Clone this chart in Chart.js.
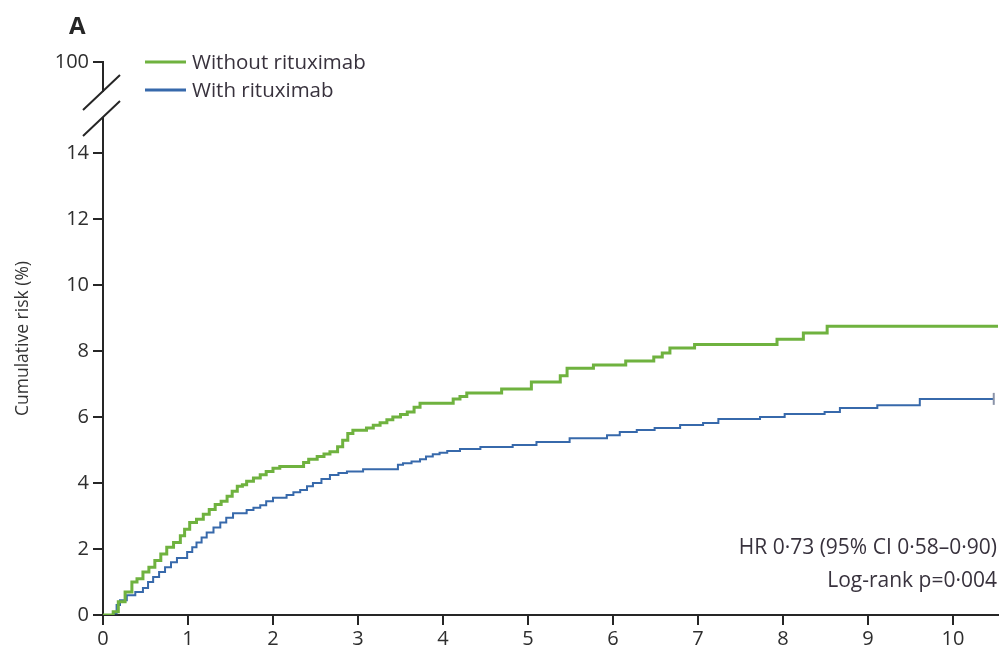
<!DOCTYPE html>
<html>
<head>
<meta charset="utf-8">
<title>Cumulative risk</title>
<script src="https://cdn.jsdelivr.net/npm/chart.js@4.4.1/dist/chart.umd.min.js"></script>
<style>
html, body { margin: 0; padding: 0; background: #fff; }
canvas { display: block; }
</style>
</head>
<body>
<canvas id="kmChart" width="1001" height="647"></canvas>
<script>
/* ==========================================
DATA (years, cumulative risk %)
========================================== */

const withoutTimes = [0, 0.12, 0.18, 0.26, 0.34, 0.40, 0.47, 0.54, 0.61, 0.68, 0.75, 0.83, 0.91, 0.96, 1.02, 1.10, 1.18, 1.25, 1.32, 1.39, 1.46, 1.52, 1.58, 1.64, 1.69, 1.77, 1.85, 1.92, 2.00, 2.08, 2.36, 2.42, 2.52, 2.60, 2.67, 2.76, 2.82, 2.88, 2.94, 3.10, 3.18, 3.26, 3.34, 3.41, 3.50, 3.58, 3.66, 3.73, 4.12, 4.20, 4.28, 4.69, 5.04, 5.38, 5.46, 5.77, 6.15, 6.48, 6.58, 6.67, 6.96, 7.93, 8.24, 8.52, 10.53];
const withoutRisk = [0, 0.10, 0.40, 0.70, 1.00, 1.10, 1.30, 1.45, 1.65, 1.85, 2.05, 2.20, 2.40, 2.60, 2.80, 2.90, 3.05, 3.20, 3.35, 3.45, 3.60, 3.75, 3.90, 3.95, 4.05, 4.15, 4.25, 4.35, 4.45, 4.50, 4.62, 4.72, 4.80, 4.88, 4.95, 5.10, 5.30, 5.50, 5.60, 5.67, 5.75, 5.83, 5.92, 6.00, 6.08, 6.15, 6.30, 6.42, 6.55, 6.62, 6.73, 6.85, 7.06, 7.25, 7.48, 7.58, 7.70, 7.82, 7.94, 8.09, 8.20, 8.36, 8.55, 8.75, 8.75];

const withTimes = [0, 0.12, 0.16, 0.20, 0.28, 0.38, 0.47, 0.53, 0.59, 0.66, 0.73, 0.80, 0.87, 0.99, 1.05, 1.10, 1.16, 1.22, 1.30, 1.38, 1.45, 1.53, 1.69, 1.77, 1.85, 1.92, 2.00, 2.16, 2.24, 2.32, 2.40, 2.47, 2.57, 2.67, 2.77, 2.87, 3.06, 3.47, 3.53, 3.63, 3.73, 3.80, 3.88, 3.96, 4.05, 4.20, 4.44, 4.82, 5.10, 5.49, 5.93, 6.08, 6.28, 6.49, 6.79, 7.06, 7.24, 7.73, 8.02, 8.49, 8.67, 9.11, 9.61, 10.48];
const withRisk = [0, 0.05, 0.30, 0.45, 0.60, 0.70, 0.82, 1.00, 1.15, 1.30, 1.45, 1.60, 1.73, 1.91, 2.05, 2.20, 2.35, 2.50, 2.65, 2.80, 2.95, 3.08, 3.18, 3.25, 3.33, 3.45, 3.55, 3.64, 3.72, 3.79, 3.90, 4.00, 4.12, 4.24, 4.30, 4.35, 4.42, 4.55, 4.60, 4.65, 4.72, 4.80, 4.87, 4.92, 4.97, 5.03, 5.09, 5.15, 5.24, 5.36, 5.45, 5.55, 5.61, 5.67, 5.76, 5.82, 5.94, 6.00, 6.09, 6.15, 6.27, 6.36, 6.55, 6.55];

const xTicks = [0, 1, 2, 3, 4, 5, 6, 7, 8, 9, 10];
const xMax = 10.53;

// last tick sits on the broken part of the axis and stands for 100
const yTickValues = [0, 2, 4, 6, 8, 10, 12, 14, 16.76];
const yTickLabels = ["0", "2", "4", "6", "8", "10", "12", "14", "100"];

const seriesNames = ["Without rituximab", "With rituximab"];
const seriesColors = ["#6fb23f", "#3769ab"];

const statLines = ["HR 0·73 (95% CI 0·58–0·90)", "Log-rank p=0·004"];


/* ==========================================
HELPERS
========================================== */

function toPoints(times, values){
return times.map((t, i) => ({ x: t, y: values[i] }));
}

const FONT = "'Open Sans', 'Noto Sans', sans-serif";
const INK = "#262626";
const TEXT = "#38323d";


/* ==========================================
DECORATIONS: panel letter, legend, stats, axis break
========================================== */

const decorations = {

id: "decorations",

afterDraw(chart){

const ctx = chart.ctx;
const area = chart.chartArea;
const axisX = area.left;

ctx.save();

// axis break: gap in the y axis and two slashes
ctx.fillStyle = "#fff";
ctx.fillRect(axisX - 3, 92, 7, 25);

ctx.strokeStyle = INK;
ctx.lineWidth = 2;
ctx.beginPath();
ctx.moveTo(axisX - 20, 110);
ctx.lineTo(axisX + 17, 75);
ctx.moveTo(axisX - 20, 136);
ctx.lineTo(axisX + 17, 101);
ctx.stroke();

// panel letter
ctx.fillStyle = INK;
ctx.font = "bold 24px " + FONT;
ctx.textBaseline = "alphabetic";
ctx.textAlign = "left";
ctx.fillText("A", 69, 34);

// legend
const legendY = [62, 90];
seriesNames.forEach((name, i) => {
ctx.strokeStyle = seriesColors[i];
ctx.lineWidth = 3;
ctx.beginPath();
ctx.moveTo(145, legendY[i]);
ctx.lineTo(186, legendY[i]);
ctx.stroke();

ctx.fillStyle = TEXT;
ctx.font = "20.5px " + FONT;
ctx.textBaseline = "middle";
ctx.fillText(name, 192, legendY[i] + 1);
});

// hazard ratio and log-rank text
ctx.textAlign = "right";
ctx.fillStyle = TEXT;
ctx.font = "21px " + FONT;
ctx.fillText(statLines[0], 997, 548);
ctx.fillText(statLines[1], 997, 581);

ctx.restore();

}

};


/* ==========================================
CHART
========================================== */

const lastWith = withTimes.length - 1;

new Chart(
document.getElementById("kmChart"),
{

type: "line",

data: {

datasets: [

{
label: seriesNames[0],
data: toPoints(withoutTimes, withoutRisk),
borderColor: seriesColors[0],
borderWidth: 3,
stepped: "before",
pointRadius: 0,
fill: false
},

{
label: seriesNames[1],
data: toPoints(withTimes, withRisk),
borderColor: seriesColors[1],
borderWidth: 2,
stepped: "before",
pointRadius: ctx => ctx.dataIndex === lastWith ? 6 : 0,
pointStyle: "line",
rotation: 90,
pointBorderColor: "#8a93a8",
pointBorderWidth: 2,
fill: false
}

]
},

options: {

responsive: false,
animation: false,

layout: {
autoPadding: false,
padding: { top: 62, right: 3, left: 0, bottom: 0 }
},

plugins: {
legend: { display: false },
tooltip: { enabled: false }
},

scales: {

x: {
type: "linear",
min: 0,
max: xMax,
afterBuildTicks: scale => {
scale.ticks = xTicks.map(v => ({ value: v }));
},
afterFit: scale => {
scale.height = 32;
scale.paddingLeft = 0;
scale.paddingRight = 0;
},
ticks: {
color: "#2e2e2e",
font: { family: FONT, size: 20 },
padding: 2,
maxRotation: 0
},
grid: {
drawOnChartArea: false,
drawTicks: true,
tickLength: 10,
color: INK,
lineWidth: 2
},
border: { color: INK, width: 2 }
},

y: {
type: "linear",
min: 0,
max: yTickValues[yTickValues.length - 1],
afterBuildTicks: scale => {
scale.ticks = yTickValues.map(v => ({ value: v }));
},
afterFit: scale => {
scale.width = 103;
},
ticks: {
color: "#2e2e2e",
font: { family: FONT, size: 20 },
padding: 4,
callback: (value, index) => yTickLabels[index]
},
grid: {
drawOnChartArea: false,
drawTicks: true,
tickLength: 10,
color: INK,
lineWidth: 2
},
border: { color: INK, width: 2 },
title: {
display: true,
text: "Cumulative risk (%)",
color: "#333",
font: { family: FONT, size: 17.5 },
padding: { top: 13, bottom: 0 }
}
}

}

},

plugins: [decorations]

}
);
</script>
</body>
</html>
